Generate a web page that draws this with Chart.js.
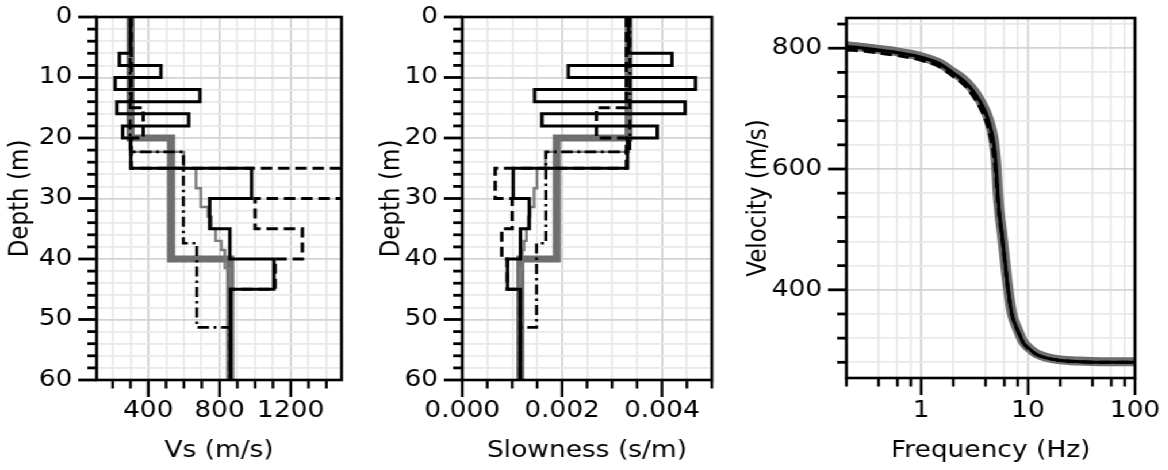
<!DOCTYPE html>
<html>
<head>
<meta charset="utf-8">
<script src="https://cdn.jsdelivr.net/npm/chart.js@4.4.1/dist/chart.umd.min.js"></script>
<style>
  html, body { margin: 0; padding: 0; background: #fff; overflow: hidden; }
  /* the source figure is stretched sideways, so the whole stage is too */
  #stage { position: relative; width: 1016px; height: 470px; transform: scaleX(1.15); transform-origin: 0 0; }
  #stage canvas { position: absolute; top: 0; }
</style>
</head>
<body>
<div id="stage">
  <canvas id="vsChart" width="330" height="470" style="left:0px"></canvas>
  <canvas id="slowChart" width="340" height="470" style="left:320px"></canvas>
  <canvas id="dispChart" width="376" height="470" style="left:640px"></canvas>
</div>
<script>
// Layered Vs profiles: top depth of each layer (m) and its velocity (m/s)
const depthBottom = 60;

const trueTops = [0, 20, 40];
const trueVs = [300, 528, 860];

const medianTops = [0, 22.3, 25, 28.3, 31.4, 33, 35, 37, 38.5, 41.5];
const medianVs = [300, 600, 668, 695, 735, 755, 778, 810, 830, 860];

const dashDotTops = [0, 22.3, 37.4, 51.3];
const dashDotVs = [298, 597, 672, 858];

const dashTops = [0, 15, 20, 25, 30, 35, 40, 45];
const dashVs = [304, 372, 304, 1515, 1000, 1265, 1112, 862];

const solidTops = [0, 6, 8, 10, 12, 14, 16, 18, 20, 25, 30, 35, 40, 45];
const solidVs = [300, 238, 471, 214, 690, 224, 627, 256, 302, 980, 745, 858, 1105, 862];

// Dispersion curves: frequency (Hz) and phase velocity (m/s)
const freqs = [0.2, 0.3, 0.4, 0.6, 0.8, 1, 1.5, 2, 2.5, 3, 3.5, 4, 4.3, 4.6, 4.8, 5, 5.2, 5.4, 5.7, 6, 6.4, 7, 8, 9, 10, 12, 15, 20, 30, 50, 100];
const trueVel = [804, 801, 798, 794, 790, 786, 775, 760, 748, 733, 716, 696, 681, 662, 644, 615, 565, 528, 494, 458, 413, 364, 334, 314, 305, 294, 288, 284, 282, 281, 281];
const solidVel = [803, 800, 797, 793, 789, 785, 774, 759, 746, 731, 714, 694, 678, 658, 640, 610, 562, 526, 492, 456, 411, 363, 333, 313, 304, 293, 287, 283, 281, 280, 280];
const dashDotVel = [801, 798, 796, 792, 788, 784, 773, 758, 745, 730, 712, 692, 676, 656, 637, 606, 560, 525, 492, 456, 411, 363, 333, 313, 304, 293, 287, 283, 281, 280, 280];
const dashVel = [797, 795, 792, 788, 784, 780, 769, 753, 740, 723, 704, 682, 664, 640, 620, 590, 550, 520, 488, 452, 408, 361, 332, 312, 303, 293, 287, 283, 281, 280, 280];

// Axis ticks and labels
function span(a, b, step) {
  const out = [];
  for (let i = 0; a + i * step <= b + step / 1000; i++) out.push(Number((a + i * step).toFixed(6)));
  return out;
}
const depthTicks = span(0, 60, 2);
const depthLabels = [0, 10, 20, 30, 40, 50, 60];
const vsTicks = span(200, 1400, 100);
const vsLabels = [400, 800, 1200];
const slowTicks = span(0, 0.005, 0.0005);
const slowLabels = [0, 0.002, 0.004];
const freqTicks = [0.2, 0.4, 0.6, 0.8, 1, 2, 4, 6, 8, 10, 20, 40, 60, 80, 100];
const freqLabels = [1, 10, 100];
const velTicks = span(280, 840, 40);
const velLabels = [400, 600, 800];

const FONT = { family: 'DejaVu Sans', size: 23 };
const MAJOR_GRID = '#d3d3d3';
const MINOR_GRID = '#e9e9e9';

const near = (list, v) => list.some(m => Math.abs(m - v) < 1e-9);

function steps(tops, vals, toX) {
  const pts = [];
  tops.forEach((t, i) => {
    const b = i + 1 < tops.length ? tops[i + 1] : depthBottom;
    pts.push({ x: toX(vals[i]), y: t }, { x: toX(vals[i]), y: b });
  });
  return pts;
}

const styles = {
  solid: { borderColor: '#000', borderWidth: 3 },
  dashed: { borderColor: '#000', borderWidth: 3, borderDash: [10, 5] },
  dashDot: { borderColor: '#000', borderWidth: 2.6, borderDash: [10, 4, 2.5, 4] },
  median: { borderColor: '#7a7a7a', borderWidth: 2.4 },
  truth: { borderColor: '#6e6e6e', borderWidth: 7 }
};

function lineSet(data, style, extra) {
  return Object.assign({ data, showLine: true, pointRadius: 0, fill: false, borderCapStyle: 'butt', borderJoinStyle: 'miter' }, style, extra || {});
}

function profileSets(toX) {
  return [
    lineSet(steps(solidTops, solidVs, toX), styles.solid),
    lineSet(steps(dashTops, dashVs, toX), styles.dashed),
    lineSet(steps(dashDotTops, dashDotVs, toX), styles.dashDot),
    lineSet(steps(medianTops, medianVs, toX), styles.median),
    lineSet(steps(trueTops, trueVs, toX), styles.truth)
  ];
}

function curve(vals) {
  return freqs.map((f, i) => ({ x: f, y: vals[i] }));
}

function axis(o) {
  return {
    type: o.type || 'linear',
    min: o.min, max: o.max, reverse: !!o.reverse,
    afterBuildTicks: s => { s.ticks = o.ticks.map(v => ({ value: v })); },
    afterFit: s => {
      if (o.horizontal) s.height = o.size; else s.width = o.size;
      // the layout padding already leaves room for edge labels
      s.paddingTop = s.paddingBottom = s.paddingLeft = s.paddingRight = 0;
    },
    ticks: {
      autoSkip: false, maxRotation: 0, padding: o.labelPad, color: '#000', font: FONT,
      callback: v => near(o.labels, v) ? o.fmt(v) : ''
    },
    grid: {
      drawTicks: false, lineWidth: 1.8,
      color: c => (c.tick && near(o.labels, c.tick.value)) ? MAJOR_GRID : MINOR_GRID
    },
    border: { display: false },
    title: {
      display: true, text: o.title, color: '#000', font: FONT,
      padding: o.horizontal ? { top: 0, bottom: o.titlePad } : { top: o.titlePad, bottom: 0 }
    }
  };
}

// frame box plus long/short tick marks drawn from the scales
const frame = {
  id: 'frame',
  afterDraw(chart, args, opts) {
    const { ctx, chartArea: a } = chart;
    const xs = chart.scales.x, ys = chart.scales.y;
    ctx.save();
    ctx.strokeStyle = '#000';
    ctx.lineCap = 'butt';
    ctx.lineWidth = 2.8;
    ys.ticks.forEach(t => {
      const y = ys.getPixelForValue(t.value);
      const len = near(opts.yMajor, t.value) ? 16 : 8;
      ctx.beginPath(); ctx.moveTo(a.left - len, y); ctx.lineTo(a.left, y); ctx.stroke();
    });
    ctx.lineWidth = 2.4;
    xs.ticks.forEach(t => {
      const x = xs.getPixelForValue(t.value);
      const len = near(opts.xMajor, t.value) ? 17 : 8.5;
      ctx.beginPath(); ctx.moveTo(x, a.bottom); ctx.lineTo(x, a.bottom + len); ctx.stroke();
    });
    ctx.lineWidth = 2.6;
    ctx.strokeRect(a.left, a.top, a.right - a.left, a.bottom - a.top);
    ctx.restore();
  }
};

function baseOptions(pad, xScale, yScale, xMajor, yMajor) {
  return {
    responsive: false,
    animation: false,
    events: [],
    layout: { padding: pad, autoPadding: false },
    scales: { x: xScale, y: yScale },
    plugins: {
      legend: { display: false },
      tooltip: { enabled: false },
      frame: { xMajor, yMajor }
    }
  };
}

// Vs panel
new Chart(document.getElementById('vsChart'), {
  type: 'scatter',
  data: { datasets: profileSets(v => v) },
  options: baseOptions(
    { left: 0, right: 33, top: 17, bottom: 0 },
    axis({ min: 110, max: 1485, ticks: vsTicks, labels: vsLabels, fmt: String, horizontal: true, size: 90, labelPad: 17, title: 'Vs (m/s)', titlePad: 5.5 }),
    axis({ min: 0, max: 60, reverse: true, ticks: depthTicks, labels: depthLabels, fmt: String, size: 84, labelPad: 21, title: 'Depth (m)', titlePad: 4 }),
    vsLabels, depthLabels
  ),
  plugins: [frame]
});

// Slowness panel
new Chart(document.getElementById('slowChart'), {
  type: 'scatter',
  data: { datasets: profileSets(v => 1 / v) },
  options: baseOptions(
    { left: 0, right: 41, top: 17, bottom: 0 },
    axis({ min: 0, max: 0.005, ticks: slowTicks, labels: slowLabels, fmt: v => v.toFixed(3), horizontal: true, size: 90, labelPad: 17, title: 'Slowness (s/m)', titlePad: 5.5 }),
    axis({ min: 0, max: 60, reverse: true, ticks: depthTicks, labels: depthLabels, fmt: String, size: 82, labelPad: 21, title: 'Depth (m)', titlePad: 7 }),
    slowLabels, depthLabels
  ),
  plugins: [frame]
});

// Dispersion panel
const smooth = { cubicInterpolationMode: 'monotone' };
new Chart(document.getElementById('dispChart'), {
  type: 'scatter',
  data: {
    datasets: [
      lineSet(curve(solidVel), styles.solid, smooth),
      lineSet(curve(dashVel), styles.dashed, smooth),
      lineSet(curve(dashDotVel), styles.dashDot, smooth),
      lineSet(curve(trueVel), { borderColor: '#6e6e6e', borderWidth: 9 }, smooth)
    ]
  },
  options: baseOptions(
    { left: 0, right: 29, top: 18, bottom: 0 },
    axis({ type: 'logarithmic', min: 0.2, max: 100, ticks: freqTicks, labels: freqLabels, fmt: String, horizontal: true, size: 92, labelPad: 19, title: 'Frequency (Hz)', titlePad: 5.5 }),
    axis({ min: 254, max: 850, ticks: velTicks, labels: velLabels, fmt: String, size: 96, labelPad: 21, title: 'Velocity (m/s)', titlePad: 6 }),
    freqLabels, velLabels
  ),
  plugins: [frame]
});
</script>
</body>
</html>
